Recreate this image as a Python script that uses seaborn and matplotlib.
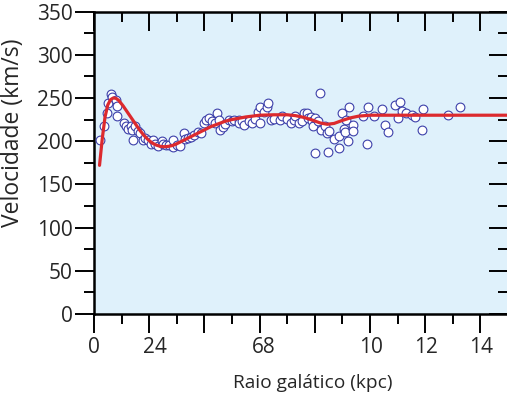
import matplotlib
matplotlib.use("Agg")
import matplotlib.pyplot as plt
import matplotlib.transforms as mtransforms
from matplotlib.ticker import MultipleLocator
import seaborn as sns
import pandas as pd

# Observed rotation velocities (kpc, km/s)
obs_r = [0.22, 0.36, 0.46, 0.50, 0.62, 0.67, 0.79, 0.85, 0.85, 1.10, 1.15, 1.22, 1.35, 1.36,
         1.47, 1.59, 1.65, 1.43, 1.76, 1.85, 1.97, 2.07, 2.13, 2.22, 2.33, 2.45, 2.50, 2.60,
         2.72, 2.86, 2.88, 3.00, 3.12, 3.25, 3.30, 3.40, 3.52, 3.64, 3.76, 3.86, 3.98, 4.06,
         4.18, 4.27, 4.37, 4.46, 4.52, 4.58, 4.66, 4.76, 4.88, 5.00, 5.06, 5.24, 5.25, 5.36,
         5.43, 5.60, 5.73, 5.85, 5.94, 6.01, 6.03, 6.15, 6.25, 6.30, 6.40, 6.52, 6.74, 6.82,
         6.98, 7.13, 7.25, 7.30, 7.44, 7.55, 7.61, 7.70, 7.75, 7.85, 7.90, 7.94, 8.00, 8.00,
         8.10, 8.19, 8.22, 8.36, 8.45, 8.48, 8.50, 8.70, 8.88, 8.88, 8.97, 9.05, 9.10, 9.14,
         9.21, 9.25, 9.39, 9.39, 9.73, 9.89, 9.94, 10.13, 10.42, 10.54, 10.66, 10.91, 11.00,
         11.07, 11.16, 11.32, 11.52, 11.64, 11.88, 11.92, 12.82, 13.27]
obs_v = [201, 217, 232, 244, 255, 251, 248, 241, 229, 221, 217, 214, 218, 213,
         218, 212, 209, 201, 201, 204, 201, 197, 201, 197, 194, 200, 197, 195,
         195, 193, 201, 195, 194, 210, 202, 204, 205, 207, 211, 209, 221, 225,
         227, 223, 221, 232, 225, 213, 216, 220, 224, 223, 225, 224, 221, 223,
         219, 223, 221, 226, 234, 240, 221, 234, 240, 244, 225, 226, 224, 229,
         226, 221, 224, 229, 221, 223, 232, 233, 227, 228, 223, 218, 227, 186,
         223, 256, 213, 218, 210, 188, 212, 202, 206, 192, 233, 214, 211, 224,
         200, 240, 219, 212, 229, 197, 239, 229, 237, 219, 211, 242, 227,
         245, 235, 232, 230, 228, 213, 237, 230, 239]

# Fitted rotation curve
fit_r = [0.20, 0.30, 0.40, 0.50, 0.60, 0.70, 0.80, 0.90, 1.05, 1.20, 1.35, 1.50, 1.65, 1.80,
         1.95, 2.10, 2.25, 2.40, 2.55, 2.70, 2.85, 3.00, 3.25, 3.50, 3.75, 4.00, 4.25, 4.50,
         4.75, 5.00, 5.50, 6.00, 6.50, 7.00, 7.30, 7.60, 7.90, 8.20, 8.45, 8.70, 9.00, 9.30,
         9.60, 10.0, 11.0, 12.0, 13.0, 14.0, 15.0]
fit_v = [172, 203, 228, 242, 248, 250, 249.5, 247, 241, 234, 227, 220, 213, 207,
         202, 198, 195.5, 194, 193.5, 194, 195, 197, 201, 205, 209, 213, 217, 220,
         223, 225, 228, 230, 230.5, 230.5, 229.5, 227.5, 224.5, 221, 219.5, 220.5, 224, 227,
         229, 230, 230, 230, 230, 230, 230]

x_ticks = [0, 2, 4, 6, 8, 10, 12, 14]
x_ticklabels = ["0", "24", "", "68", "", "10", "12", "14"]
y_ticks = [0, 50, 100, 150, 200, 250, 300, 350]

obs = pd.DataFrame({"r": obs_r, "v": obs_v})
fit = pd.DataFrame({"r": fit_r, "v": fit_v})

sns.set_style("ticks")
plt.rcParams["font.family"] = ["Open Sans", "DejaVu Sans"]

fig = plt.figure(figsize=(5.07, 3.98), dpi=100)
ax = fig.add_axes([94 / 507, (398 - 314) / 398, 414 / 507, 302.5 / 398])
ax.set_facecolor("#dff1fb")

sns.scatterplot(data=obs, x="r", y="v", ax=ax, s=40, marker="o",
                facecolor="white", edgecolor="#3d40aa", linewidth=0.8, zorder=3)
sns.lineplot(data=fit, x="r", y="v", ax=ax, color="#dc2a2e", linewidth=2.3,
             zorder=4, sort=False)

ax.set_xlim(0, 15)
ax.set_ylim(0, 350)
ax.set_xticks(x_ticks)
ax.set_xticklabels(x_ticklabels)
ax.xaxis.set_minor_locator(MultipleLocator(1))
ax.set_yticks(y_ticks)
ax.yaxis.set_minor_locator(MultipleLocator(25))

ax.tick_params(axis="both", which="major", length=13.5, width=1.4, labelsize=15, color="black")
ax.tick_params(axis="both", which="minor", length=7.5, width=1.4, color="black")
ax.tick_params(axis="x", which="both", direction="out", top=True, pad=3)
ax.tick_params(axis="y", which="both", direction="out", right=True, pad=2)
# top and right ticks point inward
for t in ax.xaxis.get_major_ticks() + ax.xaxis.get_minor_ticks():
    t.tick2line.set_marker(3)
for t in ax.yaxis.get_major_ticks() + ax.yaxis.get_minor_ticks():
    t.tick2line.set_marker(0)

for lbl, dx in zip(ax.get_xticklabels(), [0, 6, 0, 4, 0, 1, 1, 1]):
    lbl.set_transform(lbl.get_transform() + mtransforms.ScaledTranslation(dx / 100, 0, fig.dpi_scale_trans))

for side in ["left", "bottom", "top"]:
    ax.spines[side].set_linewidth(1.8)
    ax.spines[side].set_color("black")
ax.spines["right"].set_visible(False)

ax.set_xlabel("Raio galático (kpc)", fontsize=13.8)
ax.set_ylabel("Velocidade (km/s)", fontsize=16.5)
ax.xaxis.set_label_coords(0.528, -0.198)
ax.yaxis.set_label_coords(-0.167, 0.6)

fig.savefig("out.png", dpi=100)
